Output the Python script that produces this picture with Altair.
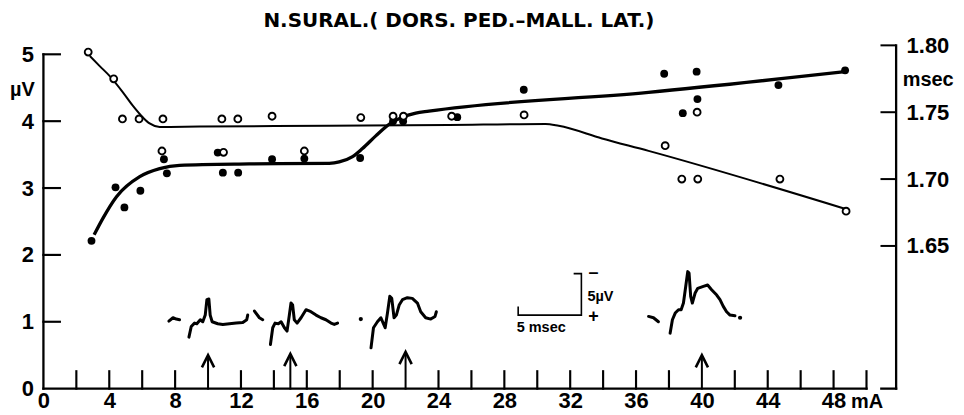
import altair as alt
import pandas as pd

# ---------------- data ----------------
TITLE = "N.SURAL.( DORS. PED.\u2013MALL. LAT.)"

# amplitude (filled dots, left axis, µV)
amp_mA = [2.92, 4.38, 4.92, 5.89, 7.32, 7.50, 10.59, 10.90, 11.83, 13.89, 15.85,
          19.24, 21.24, 21.85, 25.14, 29.18, 37.71, 38.84, 39.68, 39.73, 44.65, 48.70]
amp_uV = [2.21, 3.01, 2.71, 2.96, 3.43, 3.22, 3.53, 3.23, 3.23, 3.43, 3.44,
          3.45, 4.00, 4.00, 4.06, 4.47, 4.71, 4.12, 4.74, 4.33, 4.54, 4.76]

# latency (open circles, right axis, msec)
lat_mA = [2.72, 4.27, 4.80, 5.81, 7.26, 7.20, 10.84, 10.94, 11.81, 13.89, 15.85,
          19.28, 21.24, 21.87, 24.80, 29.20, 37.77, 38.78, 39.71, 39.75, 44.74, 48.76]
lat_ms = [1.795, 1.775, 1.745, 1.745, 1.745, 1.721, 1.745, 1.720, 1.745, 1.747, 1.721,
          1.746, 1.747, 1.747, 1.747, 1.748, 1.725, 1.700, 1.750, 1.700, 1.700, 1.676]

# fitted curve through amplitudes (µV)
ampfit_mA = [3.08, 3.62, 4.44, 5.85, 7.06, 8.27, 12.5, 17.36, 17.97, 18.78, 19.38,
             20.19, 21.10, 21.80, 22.62, 23.42, 36.76, 48.70]
ampfit_uV = [2.30, 2.55, 2.87, 3.17, 3.29, 3.34, 3.36, 3.37, 3.39, 3.47, 3.59,
             3.78, 3.97, 4.06, 4.12, 4.15, 4.43, 4.74]

# fitted curve through latencies (msec)
latfit_mA = [2.82, 3.42, 4.03, 4.84, 5.44, 6.05, 6.45, 7.06, 9.48, 17.36, 24.6,
             30.5, 31.3, 33.93, 36.76, 48.88]
latfit_ms = [1.792, 1.7845, 1.777, 1.7647, 1.7547, 1.746, 1.7416, 1.739, 1.7393,
             1.7398, 1.7405, 1.7412, 1.7398, 1.7304, 1.7211, 1.6771]

# nerve action potential traces (drawn in mA / µV units of the chart)
traces = {
    "t1a": ([7.62, 7.87, 8.07, 8.27], [1.01, 1.06, 1.04, 1.03]),
    "t1": ([8.84, 8.98, 9.18, 9.32, 9.53, 9.68, 9.83, 9.93, 10.05, 10.13, 10.25,
            10.59, 10.90, 11.30, 11.71, 12.11, 12.35, 12.41],
           [0.77, 0.93, 0.98, 0.97, 1.03, 1.00, 1.10, 1.33, 1.34, 1.10, 1.00,
            0.97, 0.96, 0.97, 0.98, 0.99, 1.03, 1.10]),
    "t2a": ([12.82, 13.12, 13.32], [1.16, 1.06, 1.03]),
    "t2": ([13.79, 13.93, 14.07, 14.27, 14.44, 14.64, 14.80, 14.94, 15.04, 15.14,
            15.24, 15.41, 15.65, 15.95, 16.25, 16.56, 16.86, 17.16, 17.47, 17.67, 17.87],
           [0.66, 0.91, 0.98, 0.97, 1.00, 0.91, 0.86, 1.10, 1.28, 1.25,
            1.03, 0.98, 1.06, 1.18, 1.15, 1.10, 1.06, 1.03, 0.98, 0.96, 0.98]),
    "t3": ([19.90, 20.05, 20.29, 20.50, 20.64, 20.76, 20.90, 21.04, 21.16, 21.30,
            21.44, 21.61, 21.81, 22.11, 22.41, 22.72, 22.92, 23.22, 23.53, 23.79, 23.87],
           [0.61, 0.91, 1.00, 1.06, 0.98, 0.91, 1.13, 1.38, 1.35, 1.06,
            1.10, 1.25, 1.33, 1.36, 1.35, 1.28, 1.15, 1.06, 1.04, 1.08, 1.15]),
    "t4a": ([36.76, 37.06, 37.36], [1.08, 1.06, 1.00]),
    "t4": ([38.07, 38.21, 38.38, 38.58, 38.74, 38.88, 39.02, 39.14, 39.22, 39.32,
            39.42, 39.59, 39.75, 40.09, 40.35, 40.59, 40.90, 41.10, 41.30, 41.50,
            41.71, 42.01],
           [0.83, 1.03, 1.13, 1.18, 1.18, 1.28, 1.53, 1.75, 1.73, 1.38,
            1.28, 1.43, 1.50, 1.53, 1.55, 1.48, 1.40, 1.33, 1.23, 1.15,
            1.10, 1.09]),
}
trace_dot_mA = [19.28, 42.32]
trace_dot_uV = [1.04, 1.06]

# stimulus arrows
arrow_mA = [10, 15, 22, 40]
arrow_tip_uV = [0.50, 0.52, 0.55, 0.50]

# calibration bar (5 msec / 5 µV)
calib_mA = [28.84, 28.84, 32.68, 32.68, 32.21]
calib_uV = [1.23, 1.10, 1.10, 1.72, 1.72]
calib_sym = ["\u2013", "+"]
calib_sym_mA = [33.42, 33.42]
calib_sym_uV = [1.73, 1.07]
calib_unit = ["5\u00b5V", "5 msec"]
calib_unit_mA = [33.05, 28.75]
calib_unit_uV = [1.37, 0.90]

# axes
x_ticks_minor = [2, 4, 6, 8, 12, 14, 16, 18, 20, 24, 26, 28, 30, 32, 34, 36, 38,
                 42, 44, 46, 48, 50]
x_labels = [0, 4, 8, 12, 16, 20, 24, 28, 32, 36, 40, 44, 48]
left_ticks = [1, 2, 3, 4, 5]
left_labels = [0, 1, 2, 3, 4, 5]
right_ticks = [1.65, 1.70, 1.75, 1.80]

X_DOMAIN = [0, 51.8]
UV_DOMAIN = [0, 5.134]
MS_DOMAIN = [1.5433, 1.80]

FONT = "Liberation Sans, Arial, sans-serif"
TFONT = "DejaVu Sans, sans-serif"

# ---------------- scales / axes ----------------
xs = alt.Scale(domain=X_DOMAIN, nice=False, zero=False)
ys_uv = alt.Scale(domain=UV_DOMAIN, nice=False, zero=False)
ys_ms = alt.Scale(domain=MS_DOMAIN, nice=False, zero=False)

axis_x = alt.Axis(values=x_labels, domain=False, ticks=False, grid=False, title=None,
                  labelFont=FONT, labelFontSize=22, labelFontWeight="bold",
                  labelColor="black", labelPadding=2, labelFlush=False,
                  labelOverlap=False, labelBaseline="top", format="d")
axis_left = alt.Axis(values=left_labels, domain=False, ticks=False, grid=False, title=None,
                     orient="left", labelFont=FONT, labelFontSize=22,
                     labelFontWeight="bold", labelColor="black", labelPadding=10,
                     labelFlush=False, labelOverlap=False, format="d")
axis_right = alt.Axis(values=right_ticks, format=".2f", domain=False,
                      ticks=False, grid=False, title=None,
                      orient="right", labelFont=FONT, labelFontSize=22,
                      labelFontWeight="bold", labelColor="black", labelPadding=10,
                      labelFlush=False, labelOverlap=False)

def X(f):
    return alt.X(f, type="quantitative", scale=xs, axis=axis_x)

def YU(f):
    return alt.Y(f, type="quantitative", scale=ys_uv, axis=axis_left)

def YM(f):
    return alt.Y(f, type="quantitative", scale=ys_ms, axis=axis_right)

# ---------------- tables ----------------
rules = []
rules.append(dict(x=0, x2=50, y=0, y2=0, w="axis"))
rules.append(dict(x=0, x2=0, y=0, y2=5, w="axis"))
rules.append(dict(x=50.9, x2=51.8, y=0, y2=0, w="axis"))
rules.append(dict(x=51.8, x2=51.8, y=0, y2=UV_DOMAIN[1], w="axis"))
for t in x_ticks_minor:
    rules.append(dict(x=t, x2=t, y=0, y2=0.26, w="tick"))
for t in left_ticks:
    rules.append(dict(x=0, x2=1.0, y=t, y2=t, w="tick"))
for a, tip in zip(arrow_mA, arrow_tip_uV):
    rules.append(dict(x=a, x2=a, y=0, y2=tip - 0.02, w="arrow"))
rules_df = pd.DataFrame(rules)

rules_ms_df = pd.DataFrame(dict(x=[50.85] * len(right_ticks), x2=[51.8] * len(right_ticks),
                                y=right_ticks, y2=right_ticks))

amp_df = pd.DataFrame(dict(x=amp_mA, y=amp_uV))
lat_df = pd.DataFrame(dict(x=lat_mA, y=lat_ms))
ampfit_df = pd.DataFrame(dict(x=ampfit_mA, y=ampfit_uV, i=range(len(ampfit_mA))))
latfit_df = pd.DataFrame(dict(x=latfit_mA, y=latfit_ms, i=range(len(latfit_mA))))

tr_rows = []
for name, (tx, ty) in traces.items():
    for k, (a, b) in enumerate(zip(tx, ty)):
        tr_rows.append(dict(seg=name, x=a, y=b, i=k))
tr_df = pd.DataFrame(tr_rows)
trdot_df = pd.DataFrame(dict(x=trace_dot_mA, y=trace_dot_uV))
arrow_df = pd.DataFrame(dict(x=arrow_mA, y=arrow_tip_uV))
calib_df = pd.DataFrame(dict(x=calib_mA, y=calib_uV, i=range(len(calib_mA))))
calib_sym_df = pd.DataFrame(dict(x=calib_sym_mA, y=calib_sym_uV, t=calib_sym))
calib_unit_df = pd.DataFrame(dict(x=calib_unit_mA, y=calib_unit_uV, t=calib_unit))

big_txt_df = pd.DataFrame(dict(
    x=[-2.03, 52.2, 49.06],
    y=[4.46, 4.61, -0.20],
    t=["\u00b5V", "msec", "mA"],
))
title_df = pd.DataFrame(dict(x=[25.24], y=[5.50], t=[TITLE]))

# ---------------- layers ----------------
rule_layer = alt.Chart(rules_df).mark_rule(color="black", strokeCap="square").encode(
    x=X("x"), x2="x2", y=YU("y"), y2="y2",
    strokeWidth=alt.StrokeWidth("w:N", scale=alt.Scale(domain=["axis", "tick", "arrow"],
                                                        range=[2.3, 2.0, 2.8]),
                                legend=None),
)

ampfit_layer = alt.Chart(ampfit_df).mark_line(color="black", strokeWidth=3.3,
                                              interpolate="monotone").encode(
    x=X("x"), y=YU("y"), order="i:Q")

amp_layer = alt.Chart(amp_df).mark_circle(color="black", opacity=1, size=62).encode(
    x=X("x"), y=YU("y"))

trace_layer = alt.Chart(tr_df).mark_line(color="black", strokeWidth=3.0,
                                         strokeJoin="round", strokeCap="round").encode(
    x=X("x"), y=YU("y"), detail="seg:N", order="i:Q")

trdot_layer = alt.Chart(trdot_df).mark_circle(color="black", opacity=1, size=18).encode(
    x=X("x"), y=YU("y"))

arrow_layer = alt.Chart(arrow_df).mark_point(
    shape="M-0.5,1L0,0L0.5,1", size=600, filled=False, color="black",
    strokeWidth=2.6, opacity=1).encode(x=X("x"), y=YU("y"))

calib_layer = alt.Chart(calib_df).mark_line(color="black", strokeWidth=1.6,
                                            strokeJoin="miter").encode(
    x=X("x"), y=YU("y"), order="i:Q")

calib_sym_layer = alt.Chart(calib_sym_df).mark_text(
    font=FONT, fontSize=18, fontWeight="bold", color="black", baseline="middle",
    align="center").encode(x=X("x"), y=YU("y"), text="t:N")

calib_unit_layer = alt.Chart(calib_unit_df).mark_text(
    font=FONT, fontSize=14.5, fontWeight="bold", color="black", baseline="middle",
    align="left").encode(x=X("x"), y=YU("y"), text="t:N")

big_txt_layer = alt.Chart(big_txt_df).mark_text(
    font=FONT, fontSize=20, fontWeight="bold", color="black", baseline="middle",
    align="left").encode(x=X("x"), y=YU("y"), text="t:N")

title_layer = alt.Chart(title_df).mark_text(
    font=TFONT, fontSize=20, fontWeight="bold", color="black", baseline="middle",
    align="center").encode(x=X("x"), y=YU("y"), text="t:N")

left = alt.layer(rule_layer, ampfit_layer, trace_layer, trdot_layer, arrow_layer,
                 calib_layer, calib_sym_layer, calib_unit_layer, big_txt_layer,
                 title_layer, amp_layer)

latfit_layer = alt.Chart(latfit_df).mark_line(color="black", strokeWidth=2.0,
                                              interpolate="monotone").encode(
    x=X("x"), y=YM("y"), order="i:Q")

rules_ms_layer = alt.Chart(rules_ms_df).mark_rule(color="black", strokeWidth=2.0).encode(
    x=X("x"), x2="x2", y=YM("y"), y2="y2")

lat_layer = alt.Chart(lat_df).mark_point(
    shape="circle", size=48, filled=False, fill="white", fillOpacity=1,
    color="black", strokeWidth=1.9, opacity=1).encode(x=X("x"), y=YM("y"))

right = alt.layer(latfit_layer, rules_ms_layer, lat_layer)

chart = alt.layer(left, right).resolve_scale(y="independent").properties(
    width=854.5, height=344,
    autosize=alt.AutoSizeParams(type="none"),
    padding={"left": 35.5, "top": 37, "right": 60, "bottom": 27},
    background="white",
).configure_view(stroke=None)

chart.save("out.html", embed_options={"renderer": "svg", "actions": False})
